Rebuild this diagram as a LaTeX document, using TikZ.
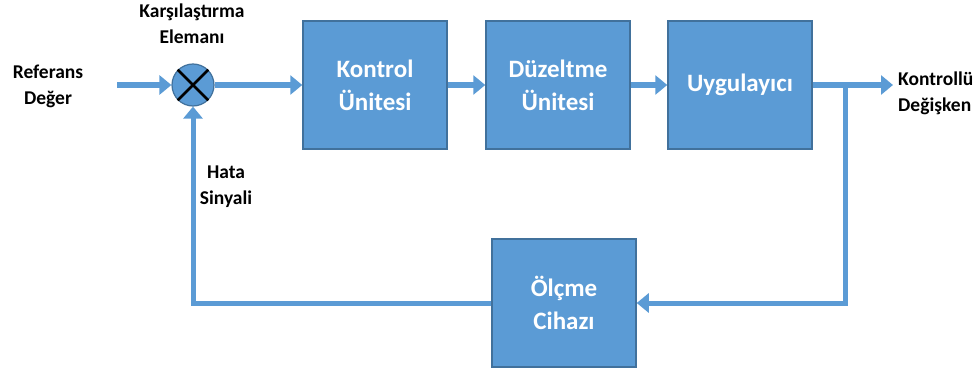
\documentclass[tikz,border=0pt]{standalone}
\usepackage{fontspec}
\setmainfont{Carlito}
\usetikzlibrary{arrows.meta}
\definecolor{boxblue}{HTML}{5B9BD5}
\definecolor{boxedge}{HTML}{41719C}
\begin{document}
\begin{tikzpicture}[x=1pt,y=-1pt,
  blk/.style={draw=boxedge,fill=boxblue,line width=1.5pt,minimum width=144pt,minimum height=128pt,
    inner sep=0pt,align=center,text=white,font=\fontsize{25}{33}\selectfont\bfseries},
  lbl/.style={align=center,font=\fontsize{19.5}{26}\selectfont\bfseries,text=black,inner sep=0pt},
  conn/.style={draw=boxblue,line width=5pt},
  arr/.style={conn,-{Triangle[length=12pt,width=19pt]}}]
\useasboundingbox (0,0) rectangle (980,369);
\node[blk] (kon) at (375,85) {Kontrol\\Ünitesi};
\node[blk] (duz) at (558,85) {Düzeltme\\Ünitesi};
\node[blk] (uyg) at (740,85) {Uygulayıcı};
\node[blk] (olc) at (564,303) {Ölçme\\Cihazı};
\node[circle,draw=boxedge,fill=boxblue,line width=1.2pt,minimum size=42pt,inner sep=0pt] (sum) at (193,85) {};
\draw[line width=2.5pt,black] (sum.45) -- (sum.225) (sum.135) -- (sum.315);
\coordinate (in) at (117,85);
\coordinate (out) at (893,85);
\coordinate (br) at (845,85);
\coordinate (fb) at (193,303);
\draw[arr] (in) -- (sum.west);
\draw[arr] (sum.east) -- (kon.west);
\draw[arr] (kon.east) -- (duz.west);
\draw[arr] (duz.east) -- (uyg.west);
\draw[arr] (uyg.east) -- (out);
\draw[arr] (br) |- (olc.east);
\draw[arr] (olc.west) -- (fb) -- (sum.south);
\node[lbl] (ref) at (48,86) {Referans\\Değer};
\node[lbl] (kar) at (192,24) {Karşılaştırma\\Elemanı};
\node[lbl] (hata) at (226,187) {Hata\\Sinyali};
\node[lbl,anchor=west,align=left] (kd) at (898,93) {Kontrollü\\Değişken};
\end{tikzpicture}
\end{document}
